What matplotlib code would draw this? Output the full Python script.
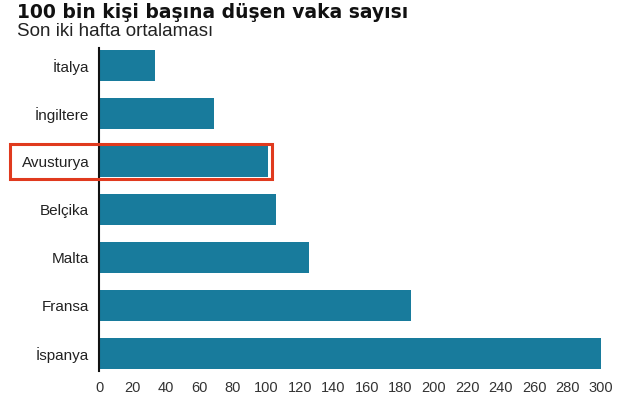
import matplotlib
matplotlib.use("Agg")
import matplotlib.pyplot as plt
import matplotlib.patches as patches
import matplotlib.transforms as mtransforms

# Data
COUNTRIES = ["İtalya", "İngiltere", "Avusturya", "Belçika", "Malta", "Fransa", "İspanya"]
CASES = [33.5, 69, 101, 106, 125.5, 186.5, 301]
XTICKS = list(range(0, 301, 20))
HIGHLIGHT = "Avusturya"

BAR_COLOR = "#187b9c"
plt.rcParams["font.family"] = ["Liberation Sans", "DejaVu Sans"]

fig = plt.figure(figsize=(6.4, 4.0), dpi=100)
fig.patch.set_facecolor("white")
ax = fig.add_axes([0.1547, 0.0725, 0.7843, 0.8075])

pos = list(range(len(COUNTRIES)))
ax.barh(pos, CASES, height=0.65, color=BAR_COLOR)

ax.set_xlim(0, 300)
ax.set_ylim(6.36, -0.36)
ax.set_xticks(XTICKS)
ax.set_xticklabels([str(t) for t in XTICKS], fontsize=10.5, color="#333333")
ax.set_yticks(pos)
ax.set_yticklabels(COUNTRIES, fontsize=11, color="#222222")
ax.tick_params(axis="both", length=0)
ax.tick_params(axis="x", pad=7.5)
ax.tick_params(axis="y", pad=7)

for s in ["top", "right", "bottom"]:
    ax.spines[s].set_visible(False)
ax.spines["left"].set_color("#111111")
ax.spines["left"].set_linewidth(1.5)

# Red box around the highlighted country
idx = COUNTRIES.index(HIGHLIGHT)
trans = mtransforms.blended_transform_factory(fig.transFigure, ax.transData)
box = patches.Rectangle((10 / 640, idx - 0.37), 262 / 640, 0.74,
                        transform=trans, fill=False, edgecolor="#e03a1e",
                        linewidth=2.2, clip_on=False, zorder=5)
fig.patches.append(box)

fig.text(17 / 640, 1 - 17.5 / 400, "100 bin kişi başına düşen vaka sayısı",
         family=["DejaVu Sans"], fontsize=13.5, fontweight="bold",
         color="#111111", va="baseline", ha="left")
fig.text(17 / 640, 1 - 35.5 / 400, "Son iki hafta ortalaması",
         fontsize=13.5, color="#222222", va="baseline", ha="left")

fig.savefig("out.png", dpi=100, facecolor="white")
